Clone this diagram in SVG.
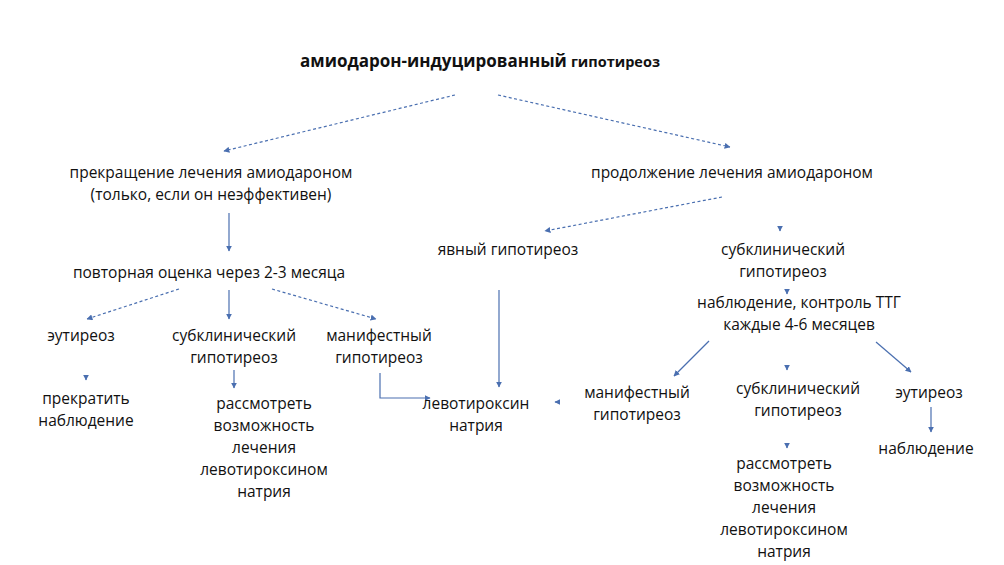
<svg xmlns="http://www.w3.org/2000/svg" width="1004" height="565" viewBox="0 0 1004 565">
<style>
text{font-family:"Open Sans","Liberation Sans",sans-serif;font-size:15.5px;fill:#111;text-anchor:middle}
.b{font-weight:bold}
.c{stroke:#4a6fb0;stroke-width:1.2;fill:none;marker-end:url(#a)}
.d{stroke-dasharray:3 2.5}
</style>
<defs><marker id="a" viewBox="0 0 10 10" refX="9" refY="5" markerWidth="6" markerHeight="6" orient="auto-start-reverse" markerUnits="userSpaceOnUse"><path d="M0 0L10 5L0 10z" fill="#4a6fb0"/></marker></defs>
<rect width="1004" height="565" fill="#fff"/>
<g id="connectors">
<path class="c d" d="M455 95L224 151"/>
<path class="c d" d="M498 95L730 147"/>
<path class="c" d="M229 213V251"/>
<path class="c d" d="M722 197L545 231"/>
<path class="c d" d="M780 229V231"/>
<path class="c d" d="M179 289L87 319"/>
<path class="c" d="M229 290V319"/>
<path class="c d" d="M272 289L376 319"/>
<path class="c" d="M86 377V380"/>
<path class="c" d="M234 370V388"/>
<path class="c" d="M380 373V398H430"/>
<path class="c" d="M499 290V387"/>
<path class="c" d="M558 402H555"/>
<path class="c" d="M787 291V294"/>
<path class="c" d="M709 341L674 376"/>
<path class="c" d="M876 342L911 372"/>
<path class="c" d="M787 367V370"/>
<path class="c" d="M931 407V432"/>
<path class="c" d="M787 445V448"/>
</g>
<g id="title"><text x="480" y="67"><tspan class="b" style="font-size:17px">амиодарон-индуцированный</tspan> <tspan class="b" style="font-size:14.5px">гипотиреоз</tspan></text></g>
<g id="stop"><text x="211" y="178">прекращение лечения амиодароном</text><text x="211" y="200">(только, если он неэффективен)</text></g>
<g id="continue"><text x="732" y="178">продолжение лечения амиодароном</text></g>
<g id="reassess"><text x="209" y="278">повторная оценка через 2-3 месяца</text></g>
<g id="overt"><text x="508" y="255">явный гипотиреоз</text></g>
<g id="subcl1"><text x="783" y="255">субклинический</text><text x="783" y="277">гипотиреоз</text></g>
<g id="monitor"><text x="799" y="308">наблюдение, контроль ТТГ</text><text x="799" y="330">каждые 4-6 месяцев</text></g>
<g id="eu1"><text x="81" y="341">эутиреоз</text></g>
<g id="subcl2"><text x="234" y="341">субклинический</text><text x="234" y="363">гипотиреоз</text></g>
<g id="manif1"><text x="379" y="341">манифестный</text><text x="379" y="363">гипотиреоз</text></g>
<g id="stopobs"><text x="86" y="404">прекратить</text><text x="86" y="426">наблюдение</text></g>
<g id="consider1"><text x="264" y="409">рассмотреть</text><text x="264" y="431">возможность</text><text x="264" y="453">лечения</text><text x="264" y="475">левотироксином</text><text x="264" y="497">натрия</text></g>
<g id="levo"><text x="476" y="409">левотироксин</text><text x="476" y="431">натрия</text></g>
<g id="manif2"><text x="637" y="398">манифестный</text><text x="637" y="420">гипотиреоз</text></g>
<g id="subcl3"><text x="798" y="394">субклинический</text><text x="798" y="416">гипотиреоз</text></g>
<g id="eu2"><text x="929" y="398">эутиреоз</text></g>
<g id="obs"><text x="926" y="454">наблюдение</text></g>
<g id="consider2"><text x="784" y="469">рассмотреть</text><text x="784" y="491">возможность</text><text x="784" y="513">лечения</text><text x="784" y="535">левотироксином</text><text x="784" y="557">натрия</text></g>
</svg>
